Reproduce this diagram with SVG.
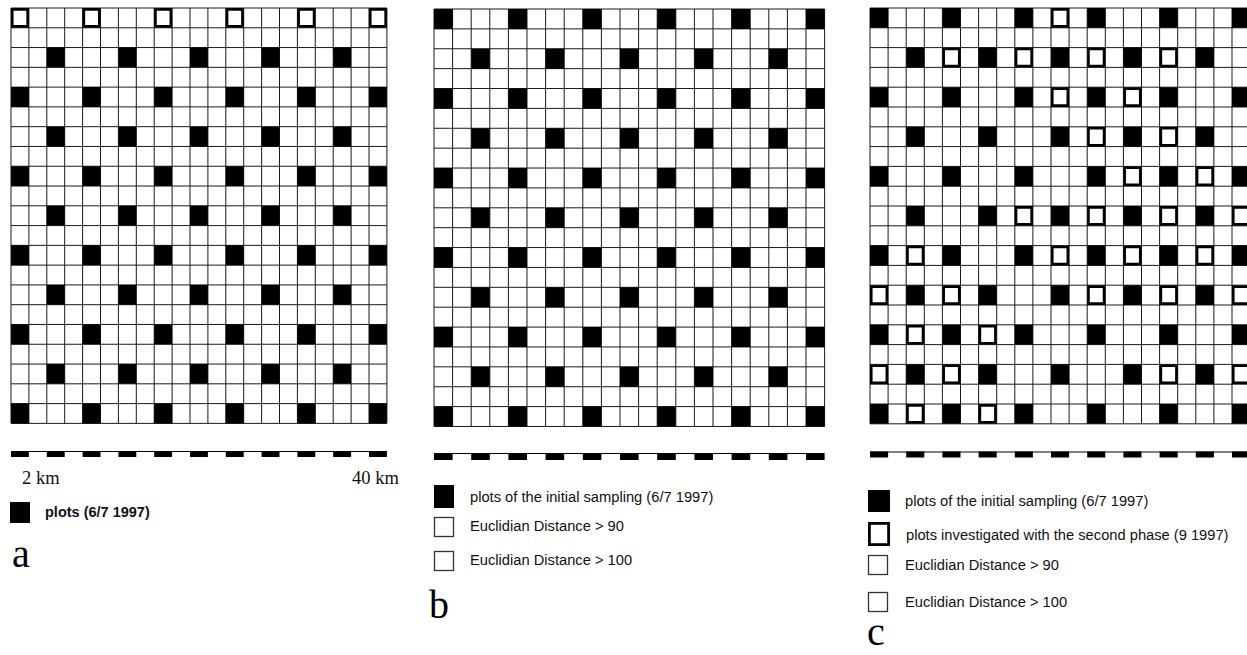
<svg xmlns="http://www.w3.org/2000/svg" width="1247" height="655" viewBox="0 0 1247 655">
<style>
.grid{fill:none;stroke:#1a1a1a;stroke-width:1}
.nss{vector-effect:non-scaling-stroke}
.fill{fill:#000}
.open{fill:#fff;stroke:#000;stroke-width:2.6;vector-effect:non-scaling-stroke}
.bar{stroke:#000;stroke-width:1;vector-effect:non-scaling-stroke}
.lg{font-family:"Liberation Sans",Arial,sans-serif;font-size:14.7px;fill:#111}
.lgb{font-family:"Liberation Sans",Arial,sans-serif;font-size:14.5px;font-weight:bold;fill:#111}
.km{font-family:"Liberation Serif","Times New Roman",serif;font-size:18.5px;fill:#111}
.lab{font-family:"Liberation Serif","Times New Roman",serif;font-size:40px;fill:#000}
.thin{fill:#fff;stroke:#333;stroke-width:1.3}
.thick{fill:#fff;stroke:#000;stroke-width:2.8}
</style>
<defs>
<path id="gridlines" class="nss" d="M0 0V21M1 0V21M2 0V21M3 0V21M4 0V21M5 0V21M6 0V21M7 0V21M8 0V21M9 0V21M10 0V21M11 0V21M12 0V21M13 0V21M14 0V21M15 0V21M16 0V21M17 0V21M18 0V21M19 0V21M20 0V21M21 0V21M0 0H21M0 1H21M0 2H21M0 3H21M0 4H21M0 5H21M0 6H21M0 7H21M0 8H21M0 9H21M0 10H21M0 11H21M0 12H21M0 13H21M0 14H21M0 15H21M0 16H21M0 17H21M0 18H21M0 19H21M0 20H21M0 21H21"/>
<path id="plots" d="M2 2h1v1h-1zM6 2h1v1h-1zM10 2h1v1h-1zM14 2h1v1h-1zM18 2h1v1h-1zM0 4h1v1h-1zM4 4h1v1h-1zM8 4h1v1h-1zM12 4h1v1h-1zM16 4h1v1h-1zM20 4h1v1h-1zM2 6h1v1h-1zM6 6h1v1h-1zM10 6h1v1h-1zM14 6h1v1h-1zM18 6h1v1h-1zM0 8h1v1h-1zM4 8h1v1h-1zM8 8h1v1h-1zM12 8h1v1h-1zM16 8h1v1h-1zM20 8h1v1h-1zM2 10h1v1h-1zM6 10h1v1h-1zM10 10h1v1h-1zM14 10h1v1h-1zM18 10h1v1h-1zM0 12h1v1h-1zM4 12h1v1h-1zM8 12h1v1h-1zM12 12h1v1h-1zM16 12h1v1h-1zM20 12h1v1h-1zM2 14h1v1h-1zM6 14h1v1h-1zM10 14h1v1h-1zM14 14h1v1h-1zM18 14h1v1h-1zM0 16h1v1h-1zM4 16h1v1h-1zM8 16h1v1h-1zM12 16h1v1h-1zM16 16h1v1h-1zM20 16h1v1h-1zM2 18h1v1h-1zM6 18h1v1h-1zM10 18h1v1h-1zM14 18h1v1h-1zM18 18h1v1h-1zM0 20h1v1h-1zM4 20h1v1h-1zM8 20h1v1h-1zM12 20h1v1h-1zM16 20h1v1h-1zM20 20h1v1h-1z"/>
<path id="row0" d="M0 0h1v1h-1zM4 0h1v1h-1zM8 0h1v1h-1zM12 0h1v1h-1zM16 0h1v1h-1zM20 0h1v1h-1z"/>
<path id="dashes" d="M0 0h1v6h-1zM2 0h1v6h-1zM4 0h1v6h-1zM6 0h1v6h-1zM8 0h1v6h-1zM10 0h1v6h-1zM12 0h1v6h-1zM14 0h1v6h-1zM16 0h1v6h-1zM18 0h1v6h-1zM20 0h1v6h-1z"/>
</defs>

<!-- Panel a -->
<g id="panel-a">
  <g id="grid-a" transform="translate(11,8) scale(17.9,19.78)">
    <rect x="0" y="0" width="21" height="21" fill="#fff"/>
    <use href="#gridlines" class="grid"/>
    <use href="#plots" class="fill"/>
    <path class="open" d="M.07 .07h.86v.86h-.86zM4.07 .07h.86v.86h-.86zM8.07 .07h.86v.86h-.86zM12.07 .07h.86v.86h-.86zM16.07 .07h.86v.86h-.86zM20.07 .07h.86v.86h-.86z"/>
  </g>
  <g id="scale-a" transform="translate(11,451) scale(17.9,1)">
    <path class="bar" d="M0 0.5H21"/>
    <use href="#dashes" class="fill"/>
  </g>
  <text class="km" x="22" y="484">2 km</text>
  <text class="km" x="352" y="484">40 km</text>
  <g id="legend-a">
    <rect x="10" y="502" width="20" height="21" fill="#000"/>
    <text class="lgb" x="45" y="517">plots (6/7 1997)</text>
  </g>
  <text class="lab" x="12" y="567">a</text>
</g>

<!-- Panel b -->
<g id="panel-b">
  <g id="grid-b" transform="translate(434,9) scale(18.6,19.88)">
    <rect x="0" y="0" width="21" height="21" fill="#fff"/>
    <use href="#gridlines" class="grid"/>
    <use href="#plots" class="fill"/>
    <use href="#row0" class="fill"/>
  </g>
  <g id="scale-b" transform="translate(434,453) scale(18.6,1)">
    <path class="bar" d="M0 0.5H21"/>
    <use href="#dashes" class="fill" transform="translate(0,1)"/>
  </g>
  <g id="legend-b">
    <rect x="434" y="485" width="20" height="23" fill="#000"/>
    <text class="lg" x="470" y="502">plots of the initial sampling (6/7 1997)</text>
    <rect class="thin" x="434.5" y="517.5" width="19" height="19"/>
    <text class="lg" x="470" y="531">Euclidian Distance &gt; 90</text>
    <rect class="thin" x="434.5" y="551.5" width="19" height="19"/>
    <text class="lg" x="470" y="565">Euclidian Distance &gt; 100</text>
  </g>
  <text class="lab" x="429" y="618">b</text>
</g>

<!-- Panel c -->
<g id="panel-c">
  <g id="grid-c" transform="translate(870,8) scale(18.1,19.8)">
    <rect x="0" y="0" width="21" height="21" fill="#fff"/>
    <use href="#gridlines" class="grid"/>
    <use href="#plots" class="fill"/>
    <use href="#row0" class="fill"/>
    <path class="open" d="M10.07 .07h.86v.86h-.86zM4.07 2.07h.86v.86h-.86zM8.07 2.07h.86v.86h-.86zM12.07 2.07h.86v.86h-.86zM16.07 2.07h.86v.86h-.86zM10.07 4.07h.86v.86h-.86zM14.07 4.07h.86v.86h-.86zM12.07 6.07h.86v.86h-.86zM16.07 6.07h.86v.86h-.86zM14.07 8.07h.86v.86h-.86zM18.07 8.07h.86v.86h-.86zM8.07 10.07h.86v.86h-.86zM12.07 10.07h.86v.86h-.86zM16.07 10.07h.86v.86h-.86zM20.07 10.07h.86v.86h-.86zM2.07 12.07h.86v.86h-.86zM10.07 12.07h.86v.86h-.86zM14.07 12.07h.86v.86h-.86zM18.07 12.07h.86v.86h-.86zM.07 14.07h.86v.86h-.86zM4.07 14.07h.86v.86h-.86zM12.07 14.07h.86v.86h-.86zM16.07 14.07h.86v.86h-.86zM20.07 14.07h.86v.86h-.86zM2.07 16.07h.86v.86h-.86zM6.07 16.07h.86v.86h-.86zM.07 18.07h.86v.86h-.86zM4.07 18.07h.86v.86h-.86zM16.07 18.07h.86v.86h-.86zM20.07 18.07h.86v.86h-.86zM2.07 20.07h.86v.86h-.86zM6.07 20.07h.86v.86h-.86z"/>
  </g>
  <g id="scale-c" transform="translate(870,451.5) scale(18.1,1)">
    <path class="bar" d="M0 0.5H21"/>
    <use href="#dashes" class="fill"/>
  </g>
  <g id="legend-c">
    <rect x="868" y="490" width="22" height="22" fill="#000"/>
    <text class="lg" x="905" y="506">plots of the initial sampling (6/7 1997)</text>
    <rect class="thick" x="869.4" y="523.4" width="19.2" height="21.2"/>
    <text class="lg" x="906" y="540">plots investigated with the second phase (9 1997)</text>
    <rect class="thin" x="868.5" y="555.5" width="19" height="19"/>
    <text class="lg" x="905" y="570">Euclidian Distance &gt; 90</text>
    <rect class="thin" x="868.5" y="592.5" width="19" height="19"/>
    <text class="lg" x="905" y="607">Euclidian Distance &gt; 100</text>
  </g>
  <text class="lab" x="867" y="645">c</text>
</g>
</svg>
